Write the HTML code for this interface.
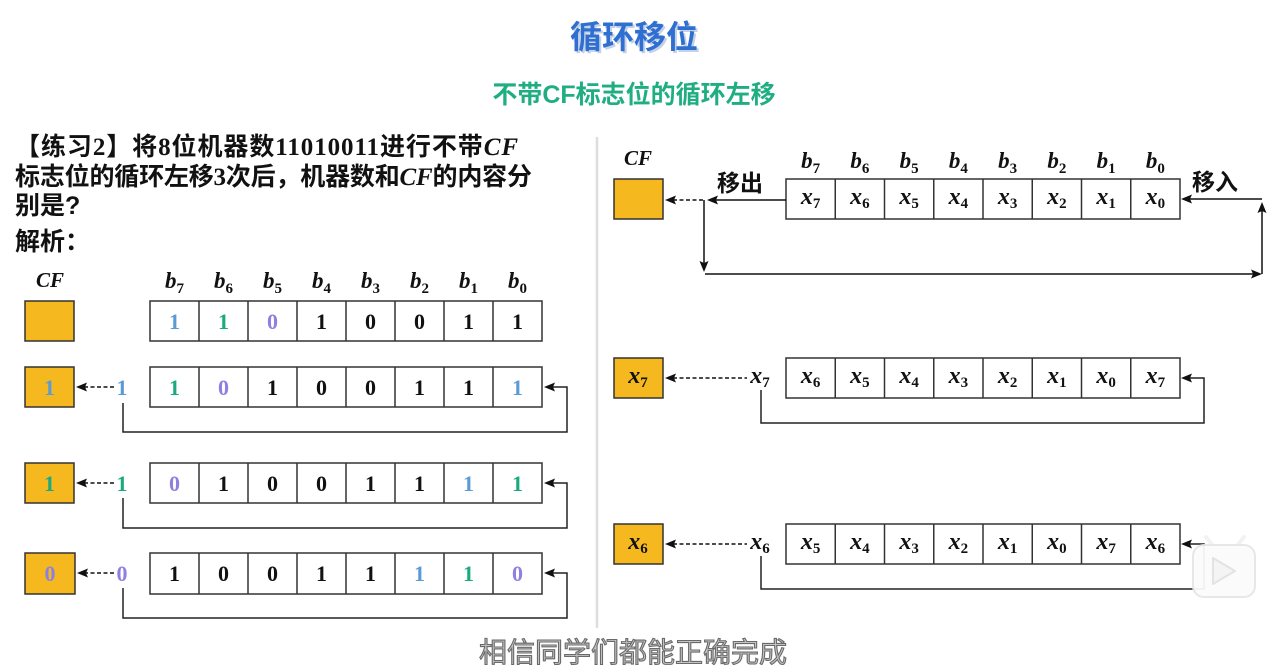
<!DOCTYPE html>
<html>
<head>
<meta charset="utf-8">
<style>
html,body{margin:0;padding:0;background:#fff;}
body{width:1274px;height:665px;overflow:hidden;}
svg{display:block;}
.cjk{font-family:"Liberation Sans","Noto Sans CJK SC",sans-serif;font-weight:bold;}
.ser{font-family:"Liberation Serif","DejaVu Serif",serif;font-weight:bold;}
.it{font-family:"Liberation Serif","DejaVu Serif",serif;font-style:italic;font-weight:bold;}
.sub{font-style:normal;}
</style>
</head>
<body>
<svg width="1274" height="665" viewBox="0 0 1274 665" xmlns="http://www.w3.org/2000/svg">
<rect width="1274" height="665" fill="#fff"/>

<!-- Title -->
<text x="636" y="50" text-anchor="middle" class="cjk" font-size="32" fill="#9db3d6" opacity="0.6">循环移位</text>
<text x="634" y="48" text-anchor="middle" class="cjk" font-size="32" fill="#2f6fd1">循环移位</text>
<text x="634" y="103" text-anchor="middle" class="cjk" font-size="25" fill="#1fae82">不带CF标志位的循环左移</text>

<!-- divider -->
<line x1="597" y1="137" x2="597" y2="628" stroke="#dedede" stroke-width="2.5"/>

<!-- Problem text -->
<text x="15" y="155" font-size="25" fill="#111" textLength="503" lengthAdjust="spacing"><tspan class="cjk">【练习</tspan><tspan class="ser">2</tspan><tspan class="cjk">】将</tspan><tspan class="ser">8</tspan><tspan class="cjk">位机器数</tspan><tspan class="ser">11010011</tspan><tspan class="cjk">进行不带</tspan><tspan class="it">CF</tspan></text>
<text x="15" y="185" font-size="25" fill="#111" textLength="517" lengthAdjust="spacing"><tspan class="cjk">标志位的循环左移</tspan><tspan class="ser">3</tspan><tspan class="cjk">次后，机器数和</tspan><tspan class="it">CF</tspan><tspan class="cjk">的内容分</tspan></text>
<text x="15" y="214" font-size="25" fill="#111" class="cjk">别是?</text>
<text x="15" y="250" font-size="25" fill="#111" class="cjk">解析：</text>

<!-- Left headers -->
<text x="50" y="287" text-anchor="middle" class="it" font-size="21" fill="#111">CF</text>
<g class="it" font-size="23" fill="#111" text-anchor="middle">
<text x="174.5" y="288">b<tspan class="sub" font-size="15" dy="5">7</tspan></text>
<text x="223.5" y="288">b<tspan class="sub" font-size="15" dy="5">6</tspan></text>
<text x="272.5" y="288">b<tspan class="sub" font-size="15" dy="5">5</tspan></text>
<text x="321.5" y="288">b<tspan class="sub" font-size="15" dy="5">4</tspan></text>
<text x="370.5" y="288">b<tspan class="sub" font-size="15" dy="5">3</tspan></text>
<text x="419.5" y="288">b<tspan class="sub" font-size="15" dy="5">2</tspan></text>
<text x="468.5" y="288">b<tspan class="sub" font-size="15" dy="5">1</tspan></text>
<text x="517.5" y="288">b<tspan class="sub" font-size="15" dy="5">0</tspan></text>
</g>

<!-- Left row 0 -->
<rect x="25" y="301" width="49" height="40" fill="#f5b81e" stroke="#333" stroke-width="1.5"/>
<rect x="150" y="301" width="392" height="40" fill="#fff" stroke="#333" stroke-width="1.5"/>
<g stroke="#333" stroke-width="1.5">
<line x1="199" y1="301" x2="199" y2="341"/><line x1="248" y1="301" x2="248" y2="341"/><line x1="297" y1="301" x2="297" y2="341"/><line x1="346" y1="301" x2="346" y2="341"/><line x1="395" y1="301" x2="395" y2="341"/><line x1="444" y1="301" x2="444" y2="341"/><line x1="493" y1="301" x2="493" y2="341"/>
</g>
<g class="ser" font-size="22" text-anchor="middle">
<text x="174.5" y="329" fill="#5b9bd5">1</text><text x="223.5" y="329" fill="#1aaa80">1</text><text x="272.5" y="329" fill="#8e80e0">0</text><text x="321.5" y="329" fill="#111">1</text><text x="370.5" y="329" fill="#111">0</text><text x="419.5" y="329" fill="#111">0</text><text x="468.5" y="329" fill="#111">1</text><text x="517.5" y="329" fill="#111">1</text>
</g>

<!-- Left row 1 -->
<rect x="25" y="367" width="49" height="40" fill="#f5b81e" stroke="#333" stroke-width="1.5"/>
<rect x="150" y="367" width="392" height="40" fill="#fff" stroke="#333" stroke-width="1.5"/>
<g stroke="#333" stroke-width="1.5">
<line x1="199" y1="367" x2="199" y2="407"/><line x1="248" y1="367" x2="248" y2="407"/><line x1="297" y1="367" x2="297" y2="407"/><line x1="346" y1="367" x2="346" y2="407"/><line x1="395" y1="367" x2="395" y2="407"/><line x1="444" y1="367" x2="444" y2="407"/><line x1="493" y1="367" x2="493" y2="407"/>
</g>
<g class="ser" font-size="22" text-anchor="middle">
<text x="49.5" y="395" fill="#5b9bd5">1</text><text x="122" y="395" fill="#5b9bd5">1</text>
<text x="174.5" y="395" fill="#1aaa80">1</text><text x="223.5" y="395" fill="#8e80e0">0</text><text x="272.5" y="395" fill="#111">1</text><text x="321.5" y="395" fill="#111">0</text><text x="370.5" y="395" fill="#111">0</text><text x="419.5" y="395" fill="#111">1</text><text x="468.5" y="395" fill="#111">1</text><text x="517.5" y="395" fill="#5b9bd5">1</text>
</g>
<line x1="84" y1="387" x2="115" y2="387" stroke="#111" stroke-width="1.6" stroke-dasharray="4,2.5"/>
<polygon points="76,387 87,382.5 85,387 87,391.5" fill="#111"/>
<polyline points="123,403 123,432 567,432 567,387 552,387" fill="none" stroke="#222" stroke-width="1.5"/>
<polygon points="544,387 555,382.5 553,387 555,391.5" fill="#111"/>

<!-- Left row 2 -->
<rect x="25" y="463" width="49" height="40" fill="#f5b81e" stroke="#333" stroke-width="1.5"/>
<rect x="150" y="463" width="392" height="40" fill="#fff" stroke="#333" stroke-width="1.5"/>
<g stroke="#333" stroke-width="1.5">
<line x1="199" y1="463" x2="199" y2="503"/><line x1="248" y1="463" x2="248" y2="503"/><line x1="297" y1="463" x2="297" y2="503"/><line x1="346" y1="463" x2="346" y2="503"/><line x1="395" y1="463" x2="395" y2="503"/><line x1="444" y1="463" x2="444" y2="503"/><line x1="493" y1="463" x2="493" y2="503"/>
</g>
<g class="ser" font-size="22" text-anchor="middle">
<text x="49.5" y="491" fill="#1aaa80">1</text><text x="122" y="491" fill="#1aaa80">1</text>
<text x="174.5" y="491" fill="#8e80e0">0</text><text x="223.5" y="491" fill="#111">1</text><text x="272.5" y="491" fill="#111">0</text><text x="321.5" y="491" fill="#111">0</text><text x="370.5" y="491" fill="#111">1</text><text x="419.5" y="491" fill="#111">1</text><text x="468.5" y="491" fill="#5b9bd5">1</text><text x="517.5" y="491" fill="#1aaa80">1</text>
</g>
<line x1="84" y1="483" x2="115" y2="483" stroke="#111" stroke-width="1.6" stroke-dasharray="4,2.5"/>
<polygon points="76,483 87,478.5 85,483 87,487.5" fill="#111"/>
<polyline points="123,498 123,528 567,528 567,483 552,483" fill="none" stroke="#222" stroke-width="1.5"/>
<polygon points="544,483 555,478.5 553,483 555,487.5" fill="#111"/>

<!-- Left row 3 -->
<rect x="25" y="553" width="50" height="41" fill="#f5b81e" stroke="#333" stroke-width="1.5"/>
<rect x="150" y="553" width="392" height="41" fill="#fff" stroke="#333" stroke-width="1.5"/>
<g stroke="#333" stroke-width="1.5">
<line x1="199" y1="553" x2="199" y2="594"/><line x1="248" y1="553" x2="248" y2="594"/><line x1="297" y1="553" x2="297" y2="594"/><line x1="346" y1="553" x2="346" y2="594"/><line x1="395" y1="553" x2="395" y2="594"/><line x1="444" y1="553" x2="444" y2="594"/><line x1="493" y1="553" x2="493" y2="594"/>
</g>
<g class="ser" font-size="22" text-anchor="middle">
<text x="50" y="581" fill="#8e80e0">0</text><text x="122" y="581" fill="#8e80e0">0</text>
<text x="174.5" y="581" fill="#111">1</text><text x="223.5" y="581" fill="#111">0</text><text x="272.5" y="581" fill="#111">0</text><text x="321.5" y="581" fill="#111">1</text><text x="370.5" y="581" fill="#111">1</text><text x="419.5" y="581" fill="#5b9bd5">1</text><text x="468.5" y="581" fill="#1aaa80">1</text><text x="517.5" y="581" fill="#8e80e0">0</text>
</g>
<line x1="84" y1="573" x2="115" y2="573" stroke="#111" stroke-width="1.6" stroke-dasharray="4,2.5"/>
<polygon points="77,573 88,568.5 86,573 88,577.5" fill="#111"/>
<polyline points="123,588 123,618 567,618 567,573 552,573" fill="none" stroke="#222" stroke-width="1.5"/>
<polygon points="544,573 555,568.5 553,573 555,577.5" fill="#111"/>

<!-- Right header -->
<text x="638" y="165" text-anchor="middle" class="it" font-size="21" fill="#111">CF</text>
<g class="it" font-size="23" fill="#111" text-anchor="middle">
<text x="810.6" y="168">b<tspan class="sub" font-size="15" dy="5">7</tspan></text>
<text x="859.9" y="168">b<tspan class="sub" font-size="15" dy="5">6</tspan></text>
<text x="909.1" y="168">b<tspan class="sub" font-size="15" dy="5">5</tspan></text>
<text x="958.4" y="168">b<tspan class="sub" font-size="15" dy="5">4</tspan></text>
<text x="1007.6" y="168">b<tspan class="sub" font-size="15" dy="5">3</tspan></text>
<text x="1056.9" y="168">b<tspan class="sub" font-size="15" dy="5">2</tspan></text>
<text x="1106.1" y="168">b<tspan class="sub" font-size="15" dy="5">1</tspan></text>
<text x="1155.4" y="168">b<tspan class="sub" font-size="15" dy="5">0</tspan></text>
</g>
<text x="740" y="191" text-anchor="middle" class="cjk" font-size="23" fill="#111">移出</text>
<text x="1215" y="190" text-anchor="middle" class="cjk" font-size="23" fill="#111">移入</text>
<rect x="614" y="179" width="49" height="40" fill="#f5b81e" stroke="#333" stroke-width="1.5"/>
<rect x="786" y="179" width="394" height="40" fill="#fff" stroke="#333" stroke-width="1.5"/>
<g stroke="#333" stroke-width="1.5">
<line x1="835.25" y1="179" x2="835.25" y2="219"/><line x1="884.5" y1="179" x2="884.5" y2="219"/><line x1="933.75" y1="179" x2="933.75" y2="219"/><line x1="983" y1="179" x2="983" y2="219"/><line x1="1032.25" y1="179" x2="1032.25" y2="219"/><line x1="1081.5" y1="179" x2="1081.5" y2="219"/><line x1="1130.75" y1="179" x2="1130.75" y2="219"/>
</g>
<g class="it" font-size="24" fill="#111" text-anchor="middle">
<text x="810.6" y="204">x<tspan class="sub" font-size="15" dy="4">7</tspan></text>
<text x="859.9" y="204">x<tspan class="sub" font-size="15" dy="4">6</tspan></text>
<text x="909.1" y="204">x<tspan class="sub" font-size="15" dy="4">5</tspan></text>
<text x="958.4" y="204">x<tspan class="sub" font-size="15" dy="4">4</tspan></text>
<text x="1007.6" y="204">x<tspan class="sub" font-size="15" dy="4">3</tspan></text>
<text x="1056.9" y="204">x<tspan class="sub" font-size="15" dy="4">2</tspan></text>
<text x="1106.1" y="204">x<tspan class="sub" font-size="15" dy="4">1</tspan></text>
<text x="1155.4" y="204">x<tspan class="sub" font-size="15" dy="4">0</tspan></text>
</g>
<!-- header arrows -->
<line x1="715" y1="200" x2="786" y2="200" stroke="#111" stroke-width="1.5"/>
<polygon points="707,200 718,195.5 716,200 718,204.5" fill="#111"/>
<line x1="673" y1="200" x2="703" y2="200" stroke="#111" stroke-width="1.6" stroke-dasharray="4,2.5"/>
<polygon points="665,200 676,195.5 674,200 676,204.5" fill="#111"/>
<line x1="704" y1="200" x2="704" y2="264" stroke="#111" stroke-width="1.5"/>
<polygon points="704,272 699.5,261 704,263 708.5,261" fill="#111"/>
<line x1="705" y1="274" x2="1253" y2="274" stroke="#111" stroke-width="1.5"/>
<polygon points="1262,274 1251,269.5 1253,274 1251,278.5" fill="#111"/>
<line x1="1262" y1="274" x2="1262" y2="211" stroke="#111" stroke-width="1.5"/>
<polygon points="1262,202 1257.5,213 1262,211 1266.5,213" fill="#111"/>
<line x1="1262" y1="199" x2="1190" y2="199" stroke="#111" stroke-width="1.5"/>
<polygon points="1181,199 1192,194.5 1190,199 1192,203.5" fill="#111"/>

<!-- Right row 1 -->
<rect x="614" y="358" width="49" height="40" fill="#f5b81e" stroke="#333" stroke-width="1.5"/>
<rect x="786" y="358" width="394" height="40" fill="#fff" stroke="#333" stroke-width="1.5"/>
<g stroke="#333" stroke-width="1.5">
<line x1="835.25" y1="358" x2="835.25" y2="398"/><line x1="884.5" y1="358" x2="884.5" y2="398"/><line x1="933.75" y1="358" x2="933.75" y2="398"/><line x1="983" y1="358" x2="983" y2="398"/><line x1="1032.25" y1="358" x2="1032.25" y2="398"/><line x1="1081.5" y1="358" x2="1081.5" y2="398"/><line x1="1130.75" y1="358" x2="1130.75" y2="398"/>
</g>
<g class="it" font-size="24" fill="#111" text-anchor="middle">
<text x="638" y="383">x<tspan class="sub" font-size="15" dy="4">7</tspan></text>
<text x="760" y="383">x<tspan class="sub" font-size="15" dy="4">7</tspan></text>
<text x="810.6" y="383">x<tspan class="sub" font-size="15" dy="4">6</tspan></text>
<text x="859.9" y="383">x<tspan class="sub" font-size="15" dy="4">5</tspan></text>
<text x="909.1" y="383">x<tspan class="sub" font-size="15" dy="4">4</tspan></text>
<text x="958.4" y="383">x<tspan class="sub" font-size="15" dy="4">3</tspan></text>
<text x="1007.6" y="383">x<tspan class="sub" font-size="15" dy="4">2</tspan></text>
<text x="1056.9" y="383">x<tspan class="sub" font-size="15" dy="4">1</tspan></text>
<text x="1106.1" y="383">x<tspan class="sub" font-size="15" dy="4">0</tspan></text>
<text x="1155.4" y="383">x<tspan class="sub" font-size="15" dy="4">7</tspan></text>
</g>
<line x1="673" y1="378" x2="747" y2="378" stroke="#111" stroke-width="1.6" stroke-dasharray="4,2.5"/>
<polygon points="665,378 676,373.5 674,378 676,382.5" fill="#111"/>
<polyline points="761,390 761,423 1204,423 1204,378 1189,378" fill="none" stroke="#222" stroke-width="1.5"/>
<polygon points="1181,378 1192,373.5 1190,378 1192,382.5" fill="#111"/>

<!-- Right row 2 -->
<rect x="614" y="524" width="49" height="40" fill="#f5b81e" stroke="#333" stroke-width="1.5"/>
<rect x="786" y="524" width="394" height="40" fill="#fff" stroke="#333" stroke-width="1.5"/>
<g stroke="#333" stroke-width="1.5">
<line x1="835.25" y1="524" x2="835.25" y2="564"/><line x1="884.5" y1="524" x2="884.5" y2="564"/><line x1="933.75" y1="524" x2="933.75" y2="564"/><line x1="983" y1="524" x2="983" y2="564"/><line x1="1032.25" y1="524" x2="1032.25" y2="564"/><line x1="1081.5" y1="524" x2="1081.5" y2="564"/><line x1="1130.75" y1="524" x2="1130.75" y2="564"/>
</g>
<g class="it" font-size="24" fill="#111" text-anchor="middle">
<text x="638" y="549">x<tspan class="sub" font-size="15" dy="4">6</tspan></text>
<text x="760" y="549">x<tspan class="sub" font-size="15" dy="4">6</tspan></text>
<text x="810.6" y="549">x<tspan class="sub" font-size="15" dy="4">5</tspan></text>
<text x="859.9" y="549">x<tspan class="sub" font-size="15" dy="4">4</tspan></text>
<text x="909.1" y="549">x<tspan class="sub" font-size="15" dy="4">3</tspan></text>
<text x="958.4" y="549">x<tspan class="sub" font-size="15" dy="4">2</tspan></text>
<text x="1007.6" y="549">x<tspan class="sub" font-size="15" dy="4">1</tspan></text>
<text x="1056.9" y="549">x<tspan class="sub" font-size="15" dy="4">0</tspan></text>
<text x="1106.1" y="549">x<tspan class="sub" font-size="15" dy="4">7</tspan></text>
<text x="1155.4" y="549">x<tspan class="sub" font-size="15" dy="4">6</tspan></text>
</g>
<line x1="673" y1="544" x2="747" y2="544" stroke="#111" stroke-width="1.6" stroke-dasharray="4,2.5"/>
<polygon points="665,544 676,539.5 674,544 676,548.5" fill="#111"/>
<polyline points="761,556 761,589 1204,589 1204,544 1189,544" fill="none" stroke="#222" stroke-width="1.5"/>
<polygon points="1181,544 1192,539.5 1190,544 1192,548.5" fill="#111"/>

<!-- watermark (bilibili-like) -->
<g opacity="0.95">
<line x1="1206" y1="537" x2="1214" y2="547" stroke="#f2f2f2" stroke-width="4" stroke-linecap="round"/>
<line x1="1244" y1="537" x2="1236" y2="547" stroke="#f2f2f2" stroke-width="4" stroke-linecap="round"/>
<rect x="1193" y="545" width="62" height="52" rx="11" fill="#fbfbfb" stroke="#e6e6e6" stroke-width="2"/>
<path d="M1213 558 L1213 584 L1235 571 Z" fill="#f4f4f4" stroke="#e2e2e2" stroke-width="2" stroke-linejoin="round"/>
</g>

<!-- bottom subtitle -->
<text x="633" y="662" text-anchor="middle" font-family="'Liberation Sans','Noto Sans CJK SC',sans-serif" font-size="28" fill="#c4c4c4" stroke="#6a6a6a" stroke-width="1.1">相信同学们都能正确完成</text>
</svg>
</body>
</html>
